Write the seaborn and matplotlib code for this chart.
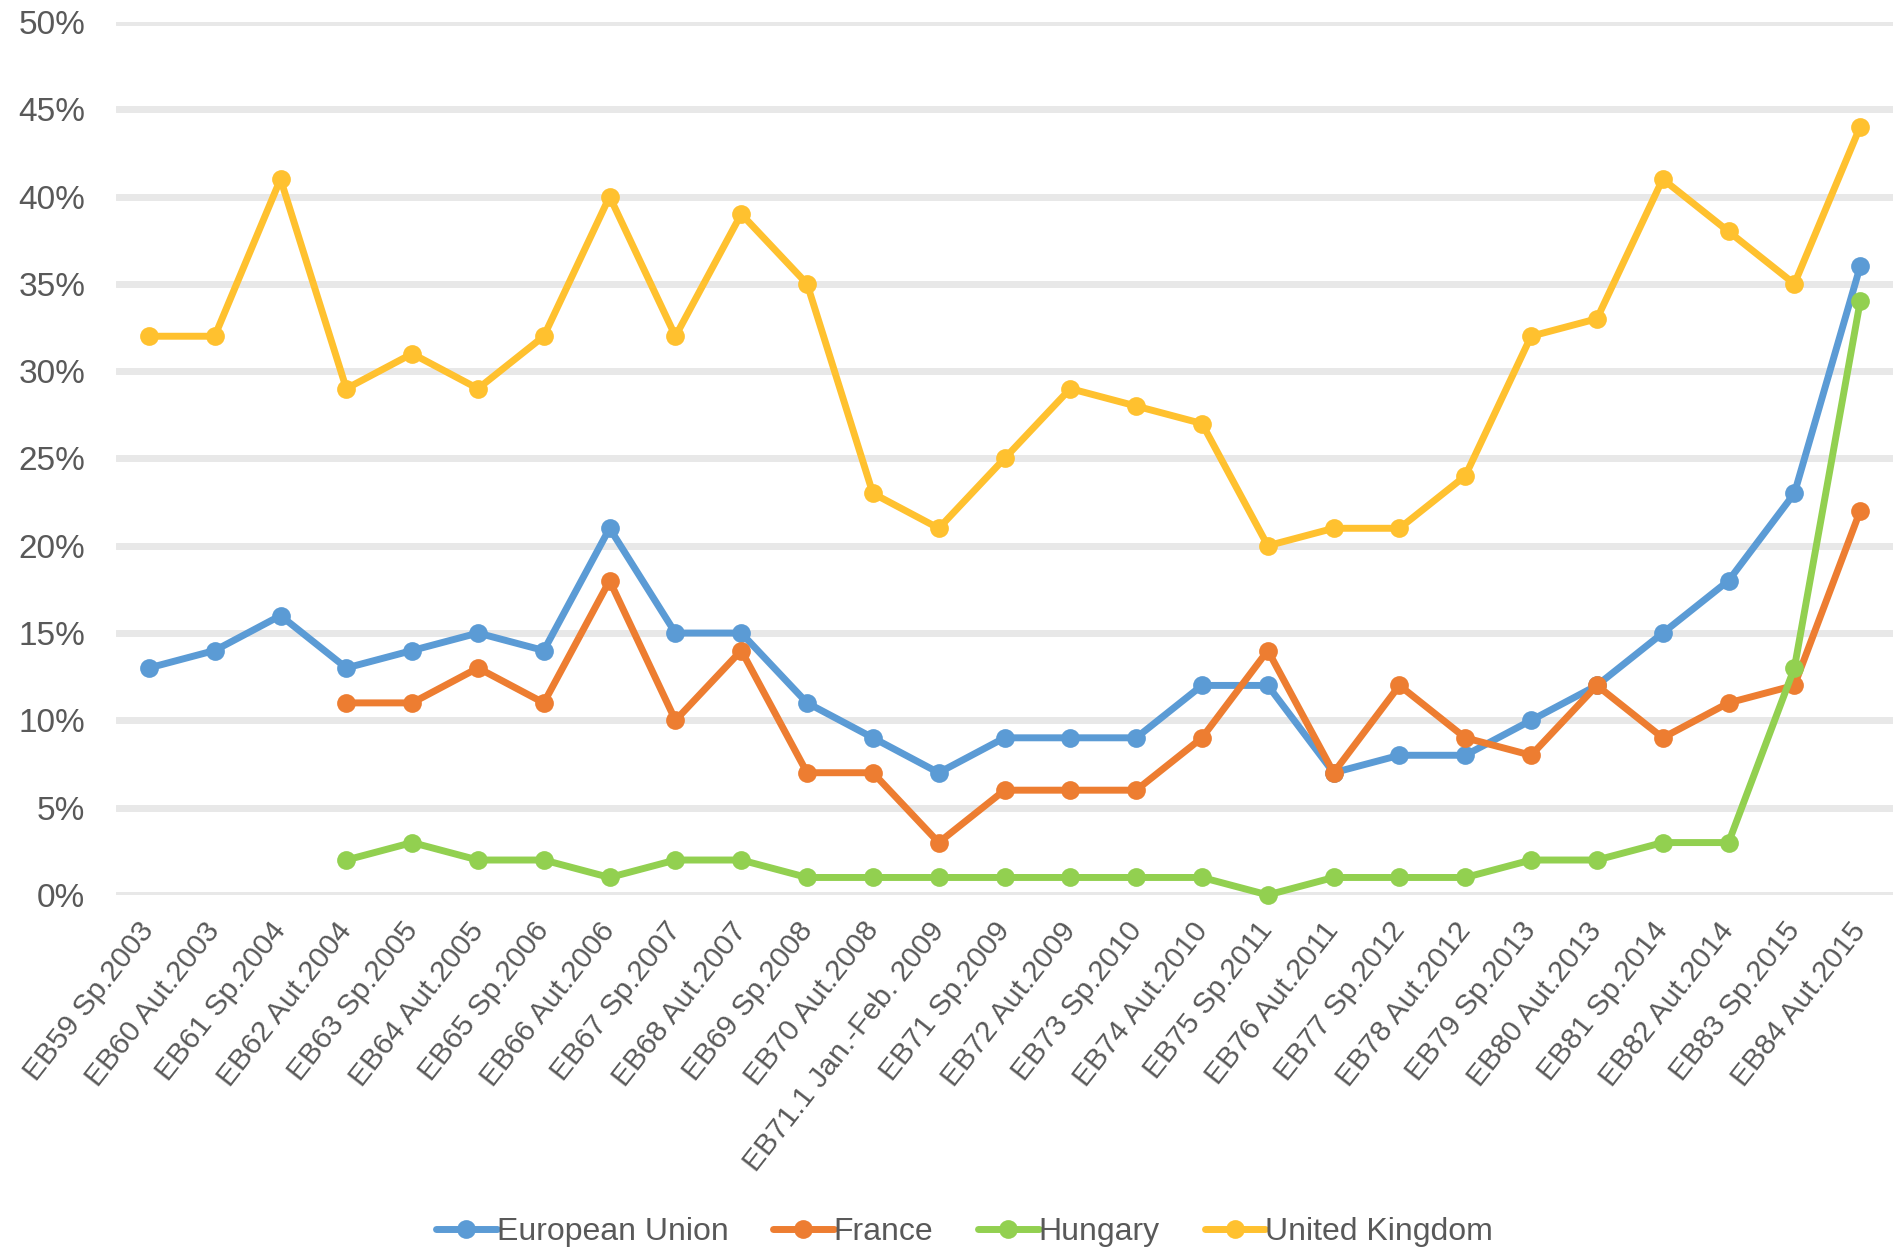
import numpy as np
import pandas as pd
import seaborn as sns
import matplotlib.pyplot as plt
from matplotlib.lines import Line2D

# survey waves
waves = ["EB59 Sp.2003", "EB60 Aut.2003", "EB61 Sp.2004", "EB62 Aut.2004",
         "EB63 Sp.2005", "EB64 Aut.2005", "EB65 Sp.2006", "EB66 Aut.2006",
         "EB67 Sp.2007", "EB68 Aut.2007", "EB69 Sp.2008", "EB70 Aut.2008",
         "EB71.1 Jan.-Feb. 2009", "EB71 Sp.2009", "EB72 Aut.2009", "EB73 Sp.2010",
         "EB74 Aut.2010", "EB75 Sp.2011", "EB76 Aut.2011", "EB77 Sp.2012",
         "EB78 Aut.2012", "EB79 Sp.2013", "EB80 Aut.2013", "EB81 Sp.2014",
         "EB82 Aut.2014", "EB83 Sp.2015", "EB84 Aut.2015"]

eu = [13, 14, 16, 13, 14, 15, 14, 21, 15, 15, 11, 9, 7, 9, 9, 9, 12, 12, 7, 8, 8,
      10, 12, 15, 18, 23, 36]
france = [np.nan, np.nan, np.nan, 11, 11, 13, 11, 18, 10, 14, 7, 7, 3, 6, 6, 6, 9,
          14, 7, 12, 9, 8, 12, 9, 11, 12, 22]
hungary = [np.nan, np.nan, np.nan, 2, 3, 2, 2, 1, 2, 2, 1, 1, 1, 1, 1, 1, 1, 0, 1,
           1, 1, 2, 2, 3, 3, 13, 34]
uk = [32, 32, 41, 29, 31, 29, 32, 40, 32, 39, 35, 23, 21, 25, 29, 28, 27, 20, 21,
      21, 24, 32, 33, 41, 38, 35, 44]

series_names = ["European Union", "France", "Hungary", "United Kingdom"]
colors = ["#5B9BD5", "#ED7D31", "#92D050", "#FFC12F"]

rows = []
for name, vals in zip(series_names, [eu, france, hungary, uk]):
    for i, v in enumerate(vals):
        rows.append({"pos": i, "value": v / 100, "series": name})
df = pd.DataFrame(rows).dropna()

sns.set_style("white")
plt.rcParams['font.family'] = ['Liberation Sans', 'DejaVu Sans']
txt = "#595959"

fig = plt.figure(figsize=(18.95, 12.55), dpi=100)
ax = fig.add_axes([0.0612, 0.2869, 0.9378, 0.6956])

sns.lineplot(data=df, x="pos", y="value", hue="series", hue_order=series_names,
             palette=colors, marker="o", markersize=13.5, markeredgewidth=0,
             linewidth=5, legend=False, ax=ax, clip_on=False, zorder=3)

ax.set_xlim(-0.5, len(waves) - 0.5)
ax.set_ylim(0, 0.5)
yt = np.arange(0, 0.51, 0.05)
ax.set_yticks(yt)
ax.set_yticklabels([f"{int(round(t * 100))}%" for t in yt])
ax.set_xticks(range(len(waves)))
ax.set_xticklabels(waves, rotation=52, ha="right", va="center",
                   rotation_mode="anchor")
ax.tick_params(axis="x", length=0, pad=22, labelsize=21.5, labelcolor=txt)
ax.tick_params(axis="y", length=0, pad=22, labelsize=24, labelcolor=txt)
ax.yaxis.grid(True, color="#E8E8E8", linewidth=5)
ax.xaxis.grid(False)
ax.set_axisbelow(True)
for s in ax.spines.values():
    s.set_visible(False)
ax.set_xlabel("")
ax.set_ylabel("")

handles = [Line2D([0], [0], color=c, linewidth=5, marker="o", markersize=13.5,
                  markeredgewidth=0) for c in colors]
leg = fig.legend(handles, series_names, loc="center", bbox_to_anchor=(0.509, 0.018),
                 ncol=4, frameon=False, prop={'size': 23}, handlelength=1.9,
                 handletextpad=0.0, columnspacing=1.4)
for t in leg.get_texts():
    t.set_color(txt)

fig.savefig("out.png", dpi=100)
